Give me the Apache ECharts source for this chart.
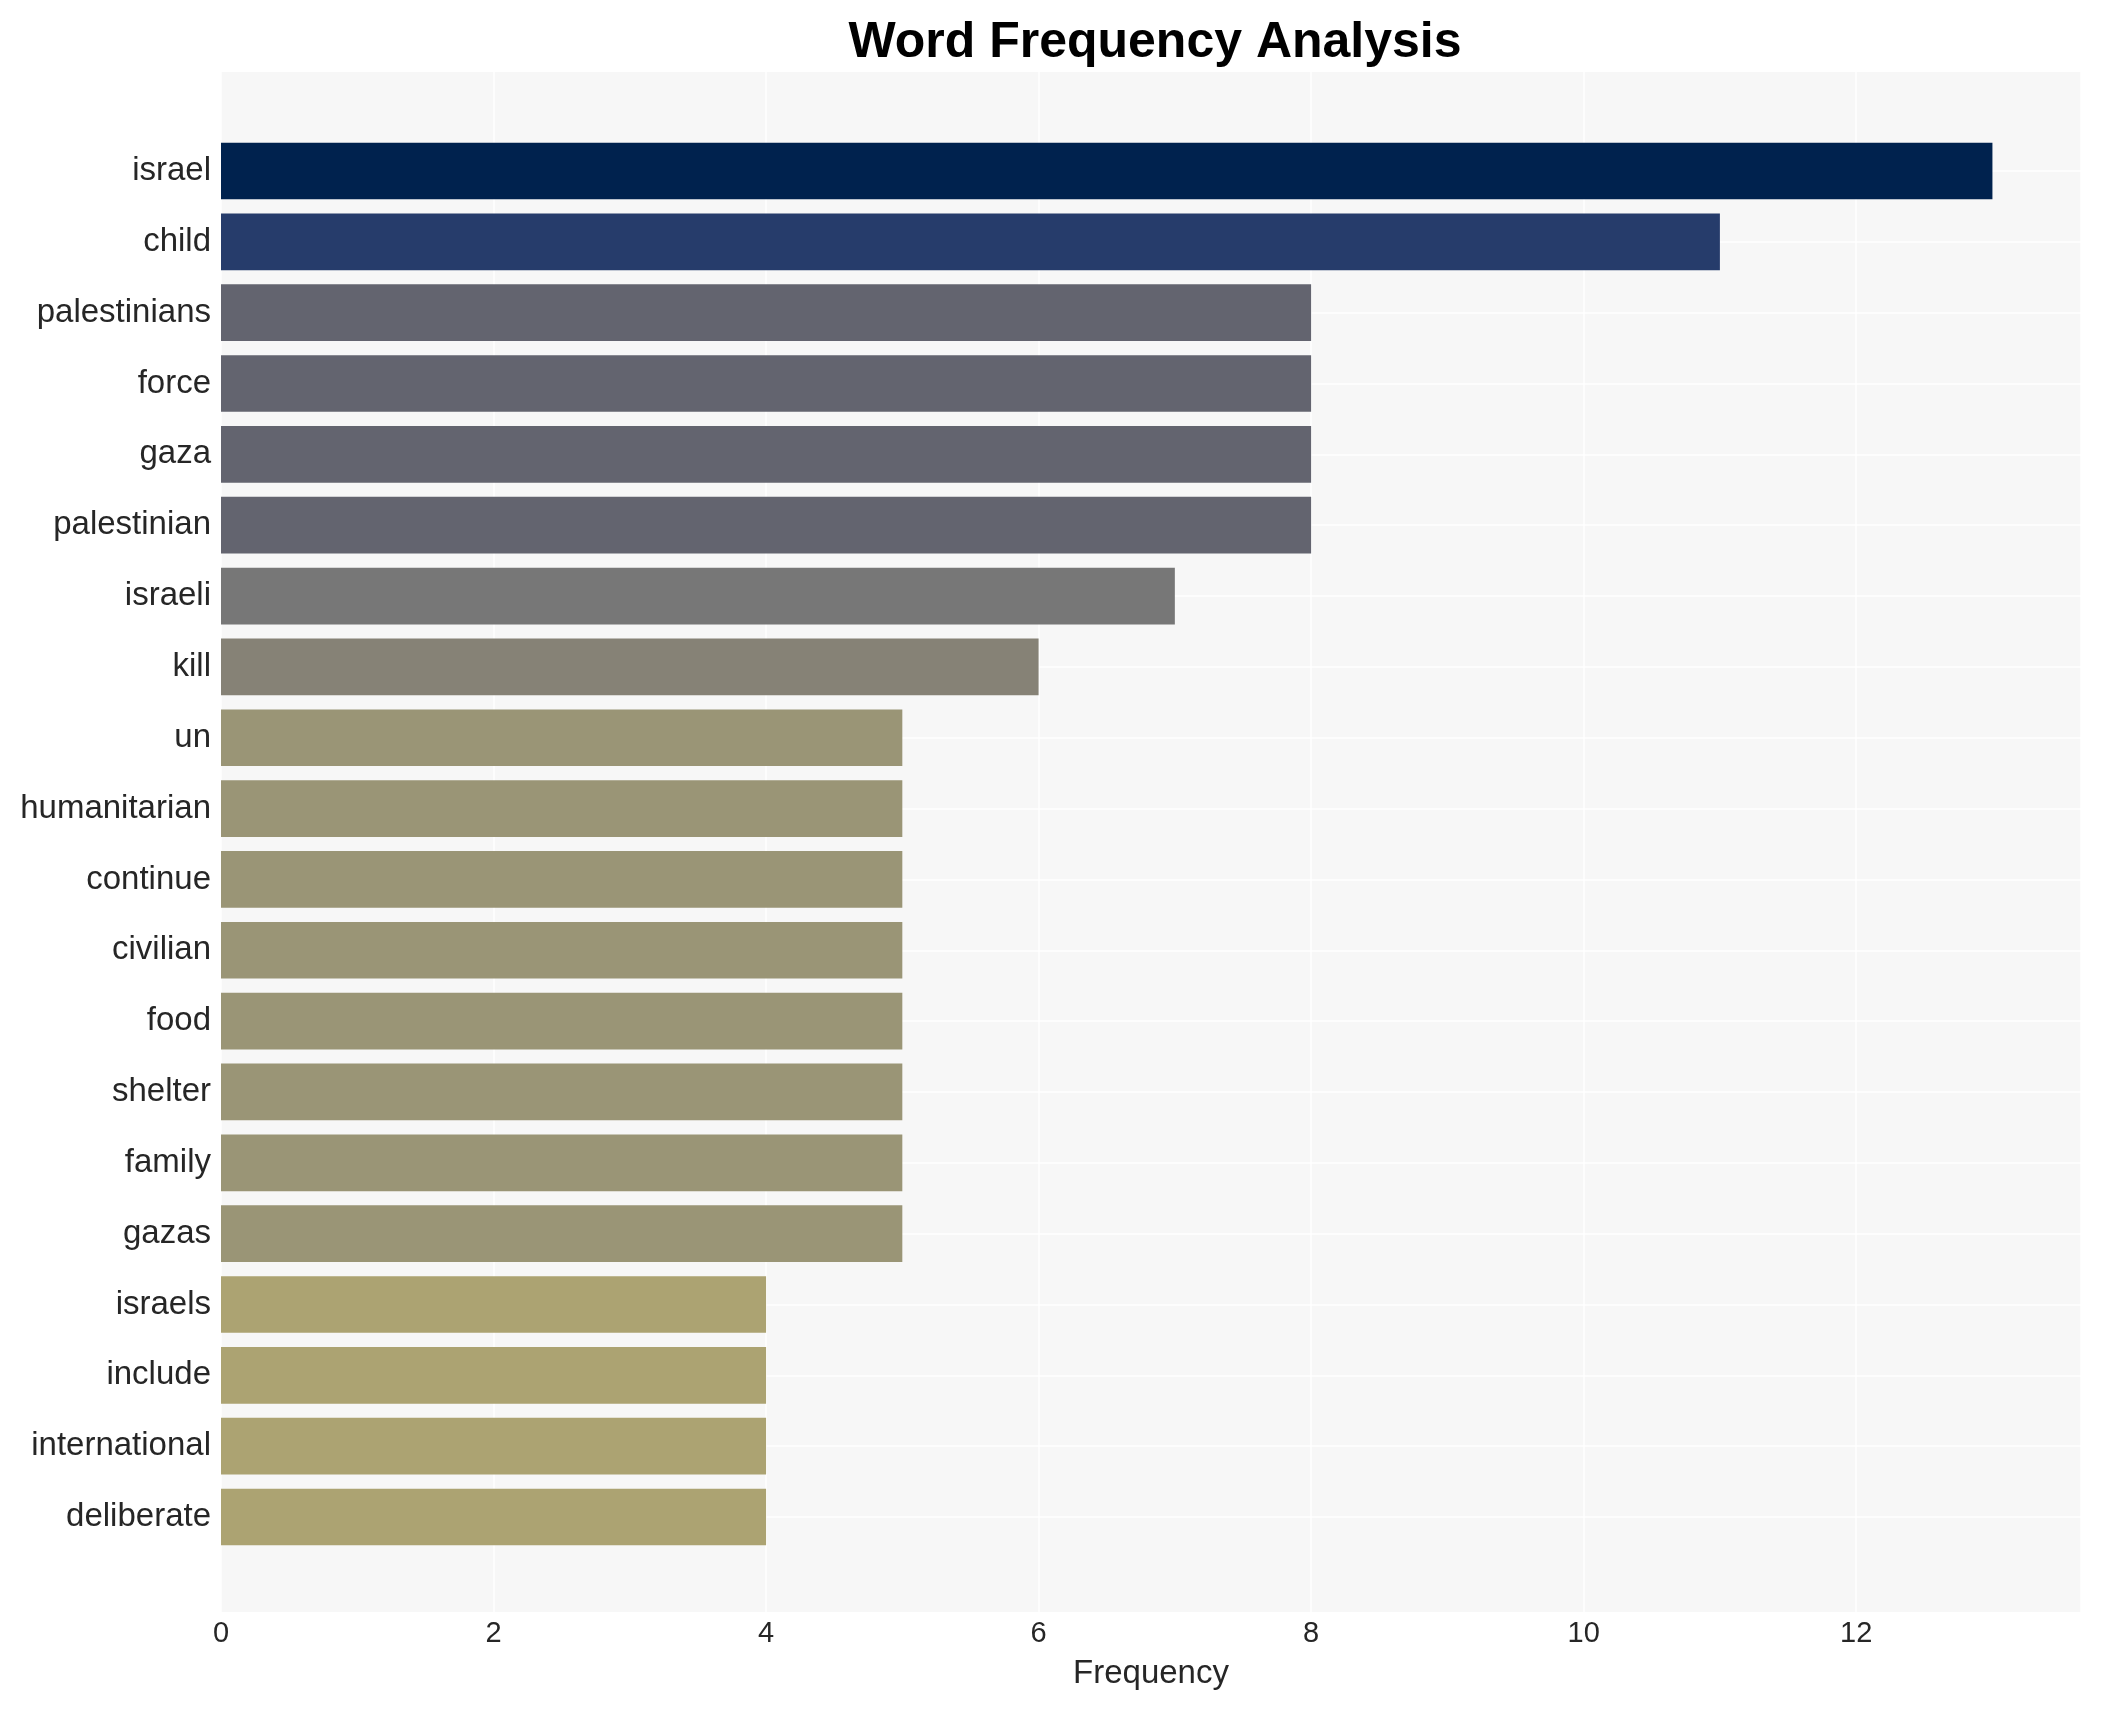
<!DOCTYPE html>
<html>
<head>
<meta charset="utf-8">
<script src="https://cdn.jsdelivr.net/npm/echarts@6/dist/echarts.min.js"></script>
<style>
html,body{margin:0;padding:0;background:#ffffff;}
#chart{width:2102px;height:1710px;}
</style>
</head>
<body>
<div id="chart"></div>
<script>
const words = ["israel","child","palestinians","force","gaza","palestinian","israeli","kill","un","humanitarian","continue","civilian","food","shelter","family","gazas","israels","include","international","deliberate"];
const counts = [13,11,8,8,8,8,7,6,5,5,5,5,5,5,5,5,4,4,4,4];
const xTicks = [0,2,4,6,8,10,12];
const palette = {13:"#00224e",11:"#263c6b",8:"#63646f",7:"#777777",6:"#868276",5:"#9a9576",4:"#aca372"};

const FONT = "'Liberation Sans', Arial, Helvetica, sans-serif";
const TEXT = "#262626";
const chart = echarts.init(document.getElementById('chart'));
const xMax = 13.65;

chart.setOption({
  animation: false,
  backgroundColor: '#ffffff',
  title: {
    text: 'Word Frequency Analysis',
    left: 1150, textAlign: 'center', top: 13,
    textStyle: {fontFamily: FONT, fontSize: 50, fontWeight: 'bold', color: '#000000'}
  },
  grid: [
    {left: 221, right: 21, top: 72, bottom: 98, show: true, backgroundColor: '#f7f7f7', borderWidth: 0},
    {left: 221, right: 21, top: 171, bottom: 193}
  ],
  xAxis: [
    {
      gridIndex: 0, type: 'value', min: 0, max: xMax, interval: 2,
      axisLine: {show: false}, axisTick: {show: false},
      splitLine: {show: true, lineStyle: {color: '#ffffff', width: 1.5}},
      axisLabel: {
        fontFamily: FONT, fontSize: 29, color: TEXT, margin: 7, showMaxLabel: false,
        formatter: v => (xTicks.indexOf(v) >= 0 ? String(v) : '')
      },
      name: 'Frequency', nameLocation: 'middle', nameGap: 45,
      nameTextStyle: {fontFamily: FONT, fontSize: 33, color: TEXT}
    },
    {gridIndex: 1, type: 'value', min: 0, max: xMax, show: false, splitLine: {show: false}}
  ],
  yAxis: [
    {gridIndex: 0, type: 'value', show: false, splitLine: {show: false}},
    {
      gridIndex: 1, type: 'category', data: words, inverse: true, boundaryGap: false,
      axisLine: {show: false}, axisTick: {show: false},
      splitLine: {show: true, lineStyle: {color: '#ffffff', width: 1.5}},
      axisLabel: {fontFamily: FONT, fontSize: 33, color: TEXT, margin: 10, interval: 0}
    }
  ],
  series: [{
    type: 'bar', xAxisIndex: 1, yAxisIndex: 1, clip: false,
    barWidth: '80%',
    data: counts.map(v => ({value: v, itemStyle: {color: palette[v]}}))
  }]
});
</script>
</body>
</html>
